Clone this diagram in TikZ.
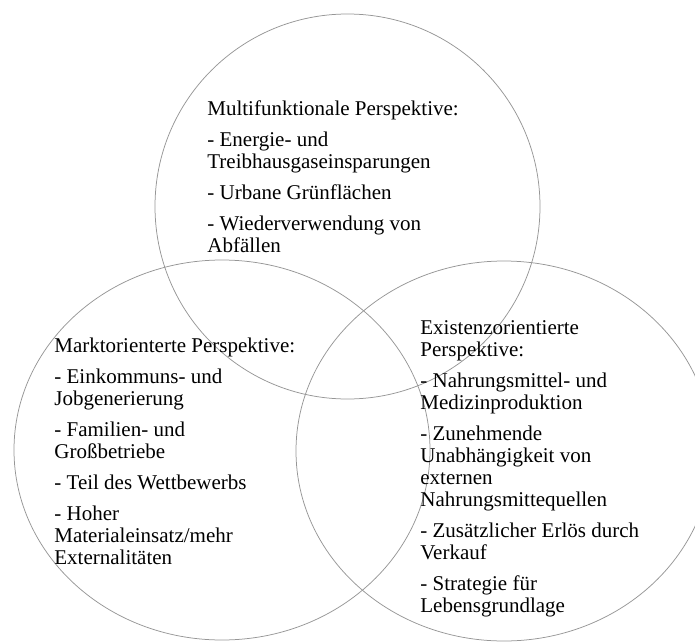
\documentclass[tikz,border=0pt]{standalone}
\usepackage{fontspec}
\setmainfont{Liberation Serif}

\tikzset{every picture/.style={line width=0.75pt}}

\begin{document}
\begin{tikzpicture}[x=1pt,y=1pt,yscale=-1,xscale=1,
    venn/.style={color={rgb, 255:red, 150; green, 150; blue, 150 }, draw opacity=1},
    txt/.style={anchor=north west, inner sep=0pt, align=left, font=\fontsize{21}{22}\selectfont}]
    \useasboundingbox (0,0) rectangle (695,642);

    %Shape: Circle [top]
    \draw [venn] (347.5,206.5) circle (192.5);
    %Shape: Ellipse [left]
    \draw [venn] (222,450) ellipse (208 and 190);
    %Shape: Ellipse [right]
    \draw [venn] (504,451) ellipse (208 and 190);

    % Text Node
    \draw (207,100) node (multi) [txt] {Multifunktionale Perspektive:\\[9pt]
      - Energie- und\\ Treibhausgaseinsparungen\\[9pt]
      - Urbane Grünflächen\\[9pt]
      - Wiederverwendung von\\ Abfällen};
    % Text Node
    \draw (54,338) node (markt) [txt] {Marktorienterte Perspektive:\\[9pt]
      - Einkommuns- und\\ Jobgenerierung\\[9pt]
      - Familien- und\\ Großbetriebe\\[9pt]
      - Teil des Wettbewerbs\\[9pt]
      - Hoher\\ Materialeinsatz/mehr\\ Externalitäten};
    % Text Node
    \draw (420,320) node (exist) [txt] {Existenzorientierte\\ Perspektive:\\[9pt]
      - Nahrungsmittel- und\\ Medizinproduktion\\[9pt]
      - Zunehmende\\ Unabhängigkeit von\\ externen\\ Nahrungsmittequellen\\[9pt]
      - Zusätzlicher Erlös durch\\ Verkauf\\[9pt]
      - Strategie für\\ Lebensgrundlage};

\end{tikzpicture}
\end{document}
